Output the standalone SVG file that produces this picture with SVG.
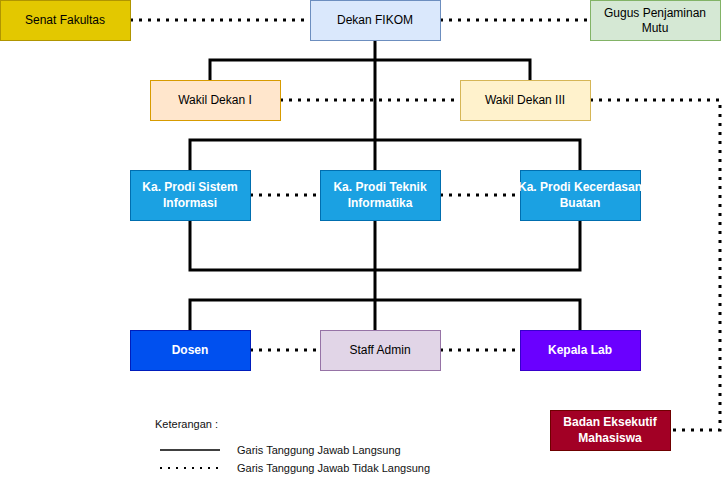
<svg xmlns="http://www.w3.org/2000/svg" width="723" height="486" viewBox="0 0 723 486">
<style>
text{font-family:"Liberation Sans",Arial,sans-serif;font-size:12px;text-anchor:middle;dominant-baseline:central}
.w{fill:#fff;font-weight:bold}
.s{fill:none;stroke:#000;stroke-width:3}
.d{fill:none;stroke:#000;stroke-width:3;stroke-dasharray:3 6}
.l{font-size:11px;text-anchor:start;fill:#111}
</style>
<rect width="723" height="486" fill="#fff"/>
<g id="connectors">
<path class="s" d="M375 40V300M210 80V60H530V80M190 170V140H580V170M190 220V270H580V220M375 220V270M190 330V300H580V330M375 300V330"/>
<path class="d" d="M130 20H310M440 20H590M280 100H460M590 100H720V430H670M250 195H320M440 195H520M250 350H320M440 350H520"/>
</g>
<g id="senat"><rect x="0.5" y="0.5" width="130" height="40" fill="#e3c800" stroke="#b09500"/><text x="65" y="20">Senat Fakultas</text></g>
<g id="dekan"><rect x="310.5" y="0.5" width="130" height="40" fill="#dae8fc" stroke="#6c8ebf"/><text x="375" y="20">Dekan FIKOM</text></g>
<g id="gugus"><rect x="590.5" y="0.5" width="130" height="40" fill="#d5e8d4" stroke="#82b366"/><text x="655" y="13">Gugus Penjaminan</text><text x="655" y="28">Mutu</text></g>
<g id="wd1"><rect x="150.5" y="80.5" width="130" height="40" fill="#ffe6cc" stroke="#d79b00"/><text x="215" y="100">Wakil Dekan I</text></g>
<g id="wd3"><rect x="460.5" y="80.5" width="130" height="40" fill="#fff2cc" stroke="#d6b656"/><text x="525" y="100">Wakil Dekan III</text></g>
<g id="si"><rect x="130.5" y="170.5" width="120" height="50" fill="#1ba1e2" stroke="#006eaf"/><text class="w" x="190" y="187">Ka. Prodi Sistem</text><text class="w" x="190" y="203">Informasi</text></g>
<g id="ti"><rect x="320.5" y="170.5" width="120" height="50" fill="#1ba1e2" stroke="#006eaf"/><text class="w" x="380" y="187">Ka. Prodi Teknik</text><text class="w" x="380" y="203">Informatika</text></g>
<g id="kb"><rect x="520.5" y="170.5" width="120" height="50" fill="#1ba1e2" stroke="#006eaf"/><text class="w" x="580" y="187">Ka. Prodi Kecerdasan</text><text class="w" x="580" y="203">Buatan</text></g>
<g id="dosen"><rect x="130.5" y="330.5" width="120" height="40" fill="#0050ef" stroke="#001dbc"/><text class="w" x="190" y="350">Dosen</text></g>
<g id="staff"><rect x="320.5" y="330.5" width="120" height="40" fill="#e1d5e7" stroke="#9673a6"/><text x="380" y="350">Staff Admin</text></g>
<g id="lab"><rect x="520.5" y="330.5" width="120" height="40" fill="#6a00ff" stroke="#3700cc"/><text class="w" x="580" y="350">Kepala Lab</text></g>
<g id="bem"><rect x="550.5" y="410.5" width="120" height="40" fill="#a20025" stroke="#6f0000"/><text class="w" x="610" y="422">Badan Eksekutif</text><text class="w" x="610" y="438">Mahasiswa</text></g>
<g id="legend">
<text class="l" x="155" y="424">Keterangan :</text>
<line x1="160" y1="450" x2="220" y2="450" stroke="#000" stroke-width="1.5"/>
<text class="l" x="237" y="450">Garis Tanggung Jawab Langsung</text>
<line x1="160" y1="468" x2="220" y2="468" stroke="#000" stroke-width="2" stroke-dasharray="2 6"/>
<text class="l" x="237" y="468">Garis Tanggung Jawab Tidak Langsung</text>
</g>
</svg>
